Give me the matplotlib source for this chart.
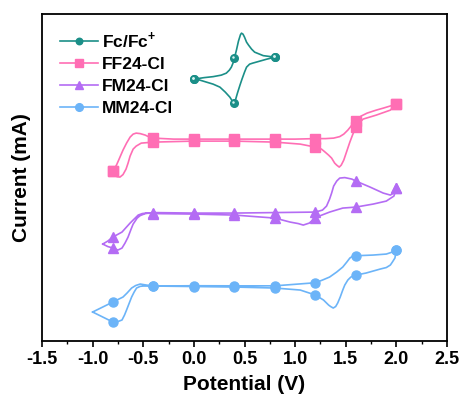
import numpy as np
import matplotlib
matplotlib.use("Agg")
from matplotlib import pyplot as plt
from matplotlib.ticker import MultipleLocator

plt.rcParams['font.family'] = ['Liberation Sans', 'DejaVu Sans']
plt.rcParams['font.weight'] = 'bold'
plt.rcParams['mathtext.fontset'] = 'custom'
plt.rcParams['mathtext.rm'] = 'Liberation Sans:bold'
plt.rcParams['mathtext.bf'] = 'Liberation Sans:bold'

# potentials (V) and currents (arbitrary offset, mA)
# each loop: anodic branch followed by cathodic branch
fc_v = [0.00, 0.10, 0.19, 0.27, 0.32, 0.35, 0.37, 0.39, 0.40, 0.42, 0.44, 0.46, 0.47, 0.485,
        0.50, 0.52, 0.54, 0.57, 0.60, 0.685, 0.80,
        0.80, 0.72, 0.65, 0.58, 0.55, 0.52, 0.50, 0.475, 0.455, 0.43, 0.41, 0.40, 0.38,
        0.355, 0.31, 0.257, 0.19, 0.125, 0.06, 0.00]
fc_i = [2.62, 2.635, 2.645, 2.66, 2.68, 2.71, 2.74, 2.79, 2.83, 2.91, 3.00, 3.065, 3.08, 3.07,
        3.04, 2.99, 2.96, 2.92, 2.89, 2.855, 2.84,
        2.84, 2.82, 2.80, 2.78, 2.77, 2.74, 2.69, 2.62, 2.56, 2.48, 2.41, 2.38, 2.40,
        2.44, 2.49, 2.54, 2.57, 2.59, 2.61, 2.62]

ff_v = [-0.80, -0.78, -0.76, -0.73, -0.70, -0.665, -0.63, -0.60, -0.57, -0.53, -0.48, -0.44,
        -0.40, -0.20, 0.00, 0.40, 0.80, 1.00, 1.20, 1.30, 1.38, 1.44, 1.48, 1.52, 1.56, 1.60,
        1.65, 1.71, 1.80, 1.87, 2.00,
        2.00, 1.94, 1.80, 1.67, 1.60, 1.57, 1.54, 1.51, 1.48, 1.455, 1.435, 1.41, 1.39, 1.36,
        1.33, 1.29, 1.26, 1.20, 1.05, 0.80, 0.40, 0.00, -0.40, -0.52, -0.57, -0.60, -0.63,
        -0.65, -0.67, -0.70, -0.73, -0.76, -0.78, -0.80]
ff_i = [1.70, 1.73, 1.77, 1.84, 1.91, 1.98, 2.04, 2.07, 2.08, 2.075, 2.06, 2.04,
        2.03, 2.02, 2.02, 2.02, 2.02, 2.02, 2.025, 2.025, 2.03, 2.045, 2.07, 2.11, 2.16, 2.20,
        2.25, 2.28, 2.31, 2.33, 2.37,
        2.37, 2.31, 2.26, 2.22, 2.14, 2.07, 1.99, 1.90, 1.81, 1.76, 1.74, 1.76, 1.78, 1.83,
        1.86, 1.895, 1.92, 1.94, 1.97, 1.99, 2.00, 2.00, 1.99, 1.98, 1.95, 1.92, 1.85,
        1.78, 1.72, 1.665, 1.64, 1.645, 1.67, 1.70]

fm_v = [-0.90, -0.85, -0.80, -0.75, -0.71, -0.68, -0.65, -0.62, -0.60, -0.56, -0.53, -0.48,
        -0.40, 0.00, 0.40, 0.80, 1.20, 1.27, 1.31, 1.34, 1.36, 1.38, 1.41, 1.44, 1.49, 1.56,
        1.60, 1.74, 1.87, 1.94, 1.985, 2.00,
        2.00, 1.975, 1.90, 1.77, 1.60, 1.47, 1.34, 1.20, 1.14, 1.08, 1.03, 0.95, 0.80,
        0.40, 0.00, -0.40, -0.47, -0.51, -0.55, -0.59, -0.63, -0.67, -0.71, -0.80, -0.85, -0.90]
fm_i = [0.97, 0.945, 0.93, 0.91, 0.93, 0.98, 1.04, 1.12, 1.17, 1.23, 1.255, 1.275,
        1.285, 1.28, 1.28, 1.285, 1.29, 1.31, 1.35, 1.42, 1.48, 1.55, 1.60, 1.63, 1.635, 1.62,
        1.60, 1.54, 1.48, 1.46, 1.49, 1.53,
        1.53, 1.45, 1.40, 1.37, 1.34, 1.33, 1.29, 1.235, 1.18, 1.16, 1.175, 1.19, 1.23,
        1.26, 1.27, 1.275, 1.28, 1.275, 1.26, 1.22, 1.18, 1.135, 1.09, 1.04, 1.00, 0.97]

mm_v = [-1.00, -0.90, -0.80, -0.75, -0.71, -0.685, -0.665, -0.64, -0.615, -0.59, -0.566,
        -0.53, -0.50, -0.40, 0.00, 0.40, 0.80, 1.20, 1.27, 1.34, 1.41, 1.47, 1.51, 1.54, 1.57,
        1.60, 1.77, 1.90, 1.96, 2.00,
        2.00, 1.985, 1.96, 1.94, 1.90, 1.84, 1.70, 1.60, 1.55, 1.52, 1.49, 1.47, 1.445, 1.42,
        1.40, 1.376, 1.35, 1.33, 1.28, 1.20, 1.05, 0.80, 0.40, 0.00, -0.40, -0.47, -0.53,
        -0.575, -0.615, -0.66, -0.70, -0.80, -0.90, -1.00]
mm_i = [0.29, 0.24, 0.19, 0.195, 0.21, 0.26, 0.31, 0.375, 0.44, 0.49, 0.53,
        0.547, 0.55, 0.55, 0.553, 0.552, 0.552, 0.583, 0.61, 0.64, 0.69, 0.74, 0.79, 0.83, 0.85,
        0.853, 0.86, 0.87, 0.89, 0.91,
        0.91, 0.83, 0.79, 0.76, 0.735, 0.72, 0.68, 0.66, 0.64, 0.61, 0.56, 0.51, 0.44, 0.38,
        0.345, 0.33, 0.345, 0.36, 0.41, 0.46, 0.51, 0.53, 0.54, 0.545, 0.55, 0.56, 0.57,
        0.555, 0.53, 0.48, 0.44, 0.39, 0.34, 0.29]

labels = ["Fc/Fc$^{+}$", "FF24-Cl", "FM24-Cl", "MM24-Cl"]
colors = ["#1b8f88", "#ff6eb4", "#b46cf4", "#6cb4f8"]


def marks(v):
    v = np.array(v)
    return np.isclose(np.round(v / 0.4) * 0.4, v) & (v > -0.85)


fig = plt.figure(figsize=(4.64, 4.05), dpi=100)
ax = fig.add_axes([0.0905, 0.158, 0.873, 0.807])

ax.plot(fc_v, fc_i, color=colors[0], lw=1.2, marker='o', ms=5.5,
        mec=colors[0], mfc=colors[0], markevery=list(marks(fc_v)), label=labels[0])
hl = np.array(fc_v)[marks(fc_v)]
ax.plot(hl - 0.01, np.array(fc_i)[marks(fc_v)] + 0.015, ls='none', marker='o', ms=1.8,
        color='#d8f3f0', mec='none')
ax.plot(ff_v, ff_i, color=colors[1], lw=1.2, marker='s', ms=6.5,
        markevery=list(marks(ff_v)), label=labels[1])
ax.plot(fm_v, fm_i, color=colors[2], lw=1.2, marker='^', ms=7,
        markevery=list(marks(fm_v)), label=labels[2])
ax.plot(mm_v, mm_i, color=colors[3], lw=1.2, marker='o', ms=6.5,
        markevery=list(marks(mm_v)), label=labels[3])

ax.set_xlim(-1.5, 2.5)
ax.set_ylim(0, 3.27)
ax.xaxis.set_minor_locator(MultipleLocator(0.25))
ax.set_xticks(np.arange(-1.5, 2.51, 0.5))
ax.set_xticklabels(["%.1f" % t for t in np.arange(-1.5, 2.51, 0.5)])
ax.set_yticks([])
ax.tick_params(axis='x', which='major', direction='out', length=4, width=1.2,
               labelsize=13, pad=3)
ax.tick_params(axis='x', which='minor', direction='out', length=2.5, width=1.0)
for lab in ax.get_xticklabels():
    lab.set_fontweight('bold')
for s in ax.spines.values():
    s.set_linewidth(1.3)

ax.set_xlabel("Potential (V)", fontsize=15, fontweight='bold', labelpad=5)
ax.set_ylabel("Current (mA)", fontsize=15, fontweight='bold', labelpad=8)

leg = ax.legend(loc='upper left', frameon=False, prop={'weight': 'bold', 'size': 12.5},
                handlelength=2.2, handletextpad=0.2, labelspacing=0.4, borderaxespad=0.3,
                markerscale=0.85, bbox_to_anchor=(0.015, 0.99))

fig.savefig("out.png", dpi=100)
